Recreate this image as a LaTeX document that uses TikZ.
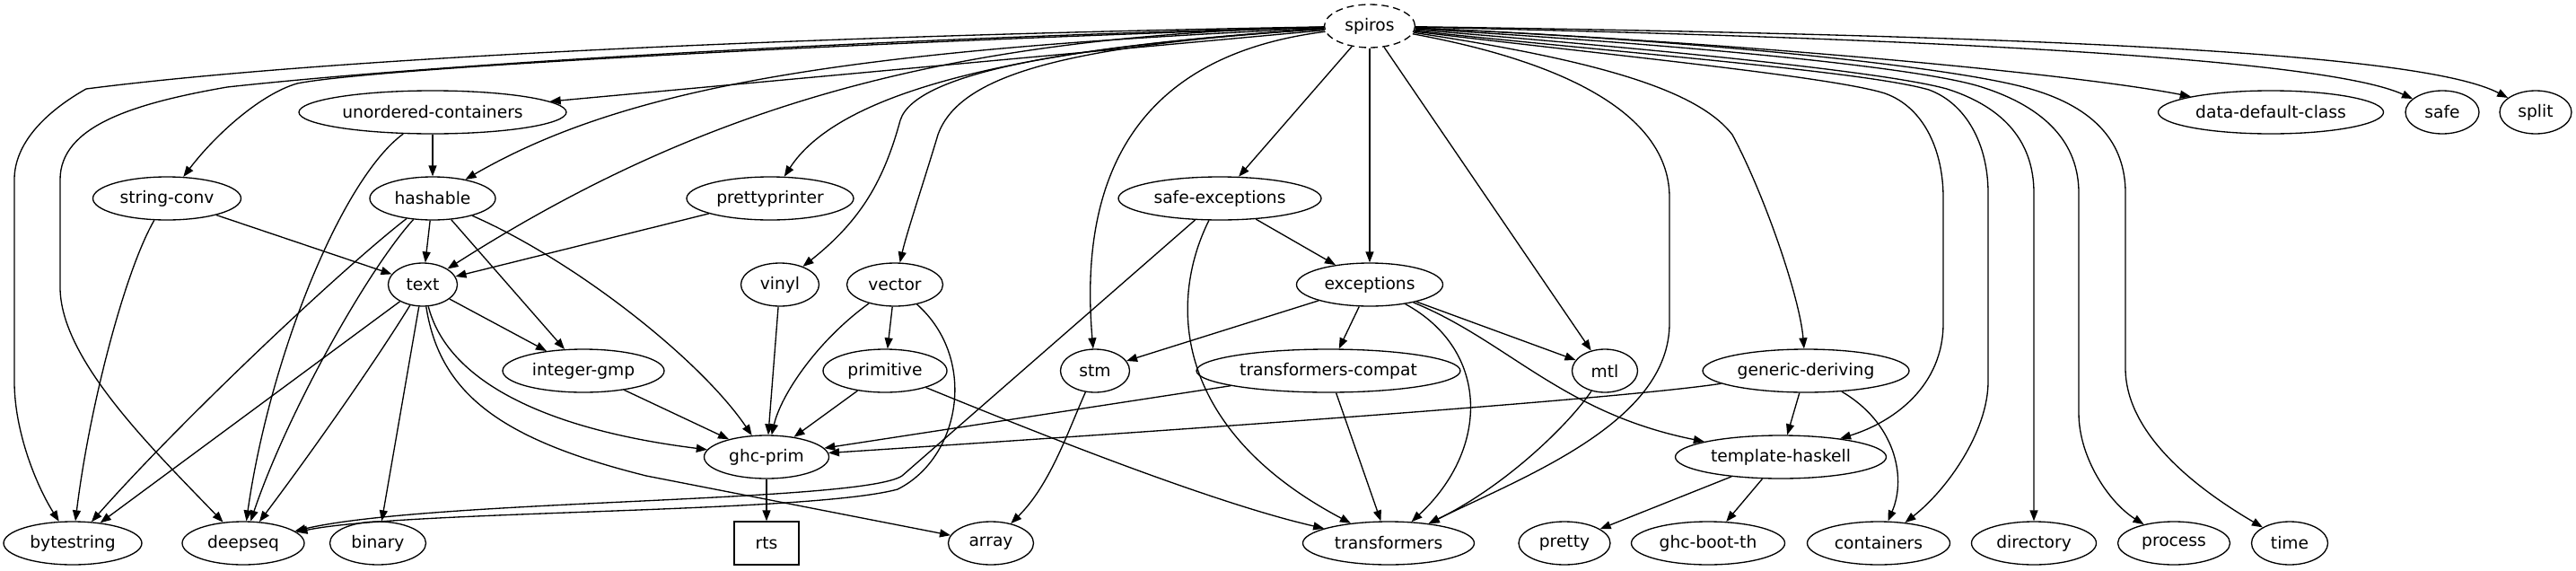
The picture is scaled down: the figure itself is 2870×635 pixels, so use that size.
\documentclass[tikz,border=0pt]{standalone}
\usepackage{fontspec}
\setmainfont{DejaVu Sans}
\usepackage{tikz}
\usetikzlibrary{arrows.meta,shapes.geometric}

\begin{document}
\begin{tikzpicture}[
          x=1pt, y=-1pt,
          pkg/.style = {draw, ellipse, line width=1.33pt, inner sep=0pt,
                        minimum height=48pt, font=\fontsize{18.67}{22}\selectfont},
          rootpkg/.style = {pkg, dash pattern=on 8pt off 5pt},
          boxpkg/.style = {pkg, rectangle, minimum width=72pt},
          arr/.style = {-{Triangle[length=12pt,width=9pt]}, line width=1.33pt},
        ]
        \useasboundingbox (0,0) rectangle (2870,635);

        \node[rootpkg, minimum width=101pt] (spiros) at (1526,29) {spiros};

        \node[pkg, minimum width=298pt] (ucont) at (482,125) {unordered-containers};
        \node[pkg, minimum width=251pt] (ddc) at (2530,125) {data-default-class};
        \node[pkg, minimum width=82pt] (safe) at (2721,125) {safe};
        \node[pkg, minimum width=80pt] (split) at (2825,125) {split};

        \node[pkg, minimum width=165pt] (sconv) at (186,221) {string-conv};
        \node[pkg, minimum width=140pt] (hashable) at (482,221) {hashable};
        \node[pkg, minimum width=186pt] (pprint) at (858,221) {prettyprinter};
        \node[pkg, minimum width=226pt] (safeexc) at (1359,221) {safe-exceptions};

        \node[pkg, minimum width=77pt] (text) at (471,317) {text};
        \node[pkg, minimum width=87pt] (vinyl) at (869,317) {vinyl};
        \node[pkg, minimum width=107pt] (vector) at (997,317) {vector};
        \node[pkg, minimum width=163pt] (exc) at (1526,317) {exceptions};

        \node[pkg, minimum width=180pt] (igmp) at (650,413) {integer-gmp};
        \node[pkg, minimum width=138pt] (prim) at (986,413) {primitive};
        \node[pkg, minimum width=77pt] (stm) at (1220,413) {stm};
        \node[pkg, minimum width=294pt] (tcompat) at (1480,413) {transformers-compat};
        \node[pkg, minimum width=73pt] (mtl) at (1788,413) {mtl};
        \node[pkg, minimum width=230pt] (gderiv) at (2012,413) {generic-deriving};

        \node[pkg, minimum width=139pt] (ghcprim) at (854,509) {ghc-prim};
        \node[pkg, minimum width=235pt] (th) at (1984,509) {template-haskell};

        \node[pkg, minimum width=154pt] (bstr) at (81,605) {bytestring};
        \node[pkg, minimum width=136pt] (deepseq) at (271,605) {deepseq};
        \node[pkg, minimum width=107pt] (binary) at (421,605) {binary};
        \node[boxpkg] (rts) at (854,605) {rts};
        \node[pkg, minimum width=95pt] (array) at (1104,605) {array};
        \node[pkg, minimum width=191pt] (trans) at (1547,605) {transformers};
        \node[pkg, minimum width=102pt] (pretty) at (1743,605) {pretty};
        \node[pkg, minimum width=171pt] (bootth) at (1903,605) {ghc-boot-th};
        \node[pkg, minimum width=159pt] (cont) at (2093,605) {containers};
        \node[pkg, minimum width=139pt] (dir) at (2266,605) {directory};
        \node[pkg, minimum width=125pt] (proc) at (2422,605) {process};
        \node[pkg, minimum width=85pt] (time) at (2551,605) {time};

        \draw[arr] (spiros) .. controls (1000,38) and (400,60) .. (96,99)
          .. controls (50,125) and (16,160) .. (16,200) -- (16,425)
          .. controls (16,480) and (40,540) .. (bstr);
        \draw[arr] (spiros) .. controls (1000,42) and (500,70) .. (253,97)
          .. controls (150,115) and (67,140) .. (67,200) -- (67,320)
          .. controls (67,400) and (170,500) .. (deepseq);
        \draw[arr] (spiros) .. controls (1000,45) and (420,75) .. (331,93)
          .. controls (290,105) and (240,150) .. (sconv);
        \draw[arr] (spiros) -- (ucont);
        \draw[arr] (spiros) .. controls (950,55) and (700,95) .. (hashable);
        \draw[arr] (spiros) .. controls (1050,40) and (780,120) .. (text);
        \draw[arr] (spiros) .. controls (1100,55) and (930,110) .. (pprint);
        \draw[arr] (spiros) .. controls (1200,50) and (1020,80) .. (1003,134)
          .. controls (985,200) and (960,245) .. (vinyl);
        \draw[arr] (spiros) .. controls (1200,50) and (1070,80) .. (1045,150)
          .. controls (1030,200) and (1010,260) .. (vector);
        \draw[arr] (spiros) .. controls (1280,60) and (1200,180) .. (stm);
        \draw[arr] (spiros) -- (safeexc);
        \draw[arr] (spiros) -- (exc);
        \draw[arr] (spiros) -- (mtl);
        \draw[arr] (spiros) .. controls (1750,70) and (1860,130) .. (1860,220)
          -- (1860,360) .. controls (1860,470) and (1700,530) .. (trans);
        \draw[arr] (spiros) .. controls (1800,70) and (1895,105) .. (1930,150)
          .. controls (1965,215) and (2005,330) .. (gderiv);
        \draw[arr] (spiros) .. controls (1780,60) and (2040,85) .. (2100,104)
          .. controls (2145,120) and (2165,170) .. (2165,220) -- (2165,360)
          .. controls (2165,430) and (2110,470) .. (th);
        \draw[arr] (spiros) .. controls (1820,60) and (2080,80) .. (2149,100)
          .. controls (2190,115) and (2215,160) .. (2215,215) -- (2215,425)
          .. controls (2215,480) and (2170,545) .. (cont);
        \draw[arr] (spiros) .. controls (1850,55) and (2100,80) .. (2169,99)
          .. controls (2235,120) and (2266,160) .. (2266,215) -- (dir);
        \draw[arr] (spiros) .. controls (1880,50) and (2140,75) .. (2208,97)
          .. controls (2280,120) and (2316,160) .. (2316,215) -- (2316,460)
          .. controls (2316,510) and (2350,560) .. (proc);
        \draw[arr] (spiros) .. controls (1900,45) and (2180,75) .. (2262,99)
          .. controls (2335,120) and (2368,160) .. (2368,215) -- (2368,410)
          .. controls (2368,480) and (2440,540) .. (time);
        \draw[arr] (spiros) .. controls (1900,45) and (2300,80) .. (ddc);
        \draw[arr] (spiros) .. controls (2250,45) and (2600,70) .. (safe);
        \draw[arr] (spiros) .. controls (2300,40) and (2700,60) .. (split);

        \draw[arr] (ucont) -- (hashable);
        \draw[arr] (ucont) .. controls (380,200) and (300,400) .. (deepseq);
        \draw[arr] (sconv) -- (text);
        \draw[arr] (sconv) .. controls (140,300) and (100,450) .. (bstr);
        \draw[arr] (hashable) -- (text);
        \draw[arr] (hashable) .. controls (380,300) and (200,470) .. (bstr);
        \draw[arr] (hashable) .. controls (410,300) and (320,460) .. (deepseq);
        \draw[arr] (hashable) -- (igmp);
        \draw[arr] (hashable) .. controls (640,290) and (780,400) .. (ghcprim);
        \draw[arr] (pprint) -- (text);
        \draw[arr] (text) -- (igmp);
        \draw[arr] (text) -- (bstr);
        \draw[arr] (text) .. controls (420,400) and (350,500) .. (deepseq);
        \draw[arr] (text) -- (binary);
        \draw[arr] (text) .. controls (500,430) and (620,480) .. (ghcprim);
        \draw[arr] (text) .. controls (490,440) and (560,490) .. (720,530) -- (array);
        \draw[arr] (vinyl) -- (ghcprim);
        \draw[arr] (vector) -- (prim);
        \draw[arr] (vector) .. controls (910,380) and (870,440) .. (ghcprim);
        \draw[arr] (vector) .. controls (1090,400) and (1070,510) .. (1000,545)
          .. controls (900,572) and (450,568) .. (deepseq);
        \draw[arr] (safeexc) -- (1005,530) .. controls (960,560) and (480,556) .. (deepseq);
        \draw[arr] (safeexc) -- (exc);
        \draw[arr] (safeexc) .. controls (1300,340) and (1310,480) .. (trans);
        \draw[arr] (exc) -- (stm);
        \draw[arr] (exc) -- (tcompat);
        \draw[arr] (exc) -- (mtl);
        \draw[arr] (exc) .. controls (1680,380) and (1740,460) .. (th);
        \draw[arr] (exc) .. controls (1660,390) and (1660,500) .. (trans);
        \draw[arr] (igmp) -- (ghcprim);
        \draw[arr] (prim) -- (ghcprim);
        \draw[arr] (prim) .. controls (1150,480) and (1350,560) .. (trans);
        \draw[arr] (stm) .. controls (1190,480) and (1170,540) .. (array);
        \draw[arr] (tcompat) -- (ghcprim);
        \draw[arr] (tcompat) -- (trans);
        \draw[arr] (mtl) .. controls (1750,470) and (1680,540) .. (trans);
        \draw[arr] (gderiv) .. controls (1800,445) and (1300,480) .. (ghcprim);
        \draw[arr] (gderiv) -- (th);
        \draw[arr] (gderiv) .. controls (2110,470) and (2125,530) .. (cont);
        \draw[arr] (ghcprim) -- (rts);
        \draw[arr] (th) -- (pretty);
        \draw[arr] (th) -- (bootth);
      \end{tikzpicture}
\end{document}
